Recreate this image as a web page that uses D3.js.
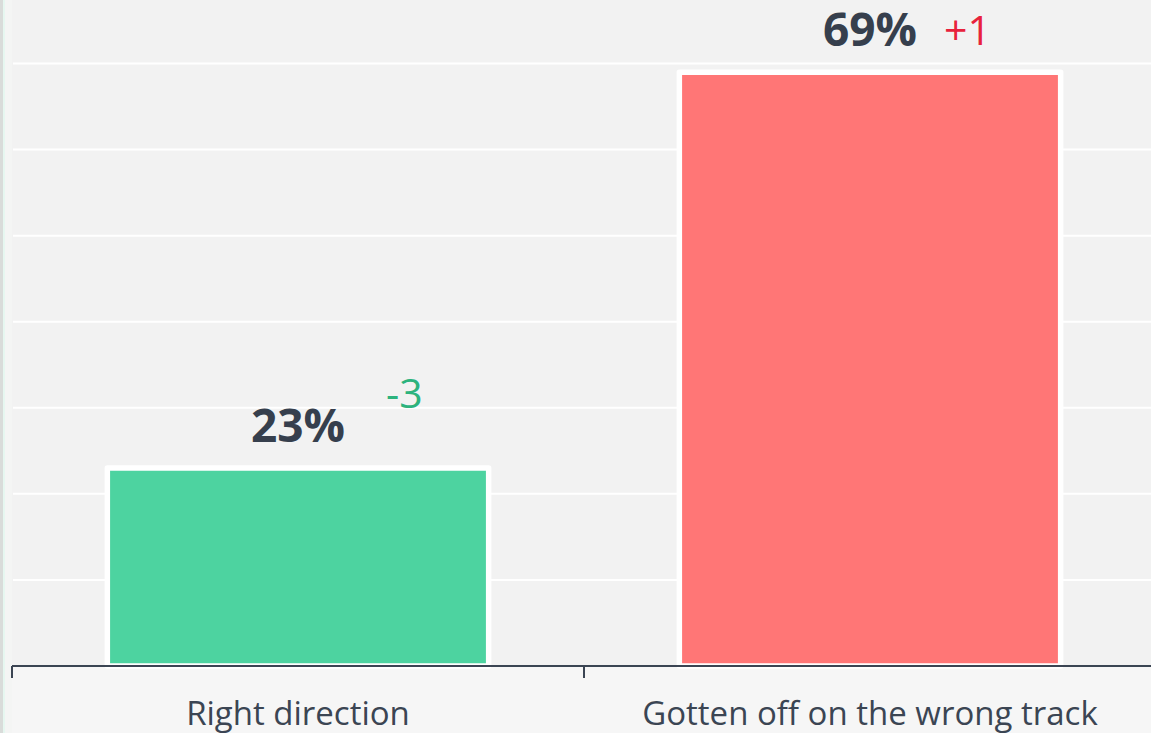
<!DOCTYPE html>
<html>
<head>
<meta charset="utf-8">
<script src="https://cdn.jsdelivr.net/npm/d3@7"></script>
<style>
  html, body { margin: 0; padding: 0; background: #f6f6f6; overflow: hidden; }
  text { font-family: "Open Sans", sans-serif; }
</style>
</head>
<body>
<div id="chart"></div>
<script>
// chart values
const categories = ["Right direction", "Gotten off on the wrong track"];
const values = [23, 69];
const changes = ["-3", "+1"];
const gridTicks = [10, 20, 30, 40, 50, 60, 70];

const barColors = ["#4dd3a0", "#ff7676"];
const changeColors = ["#2db37d", "#e8223c"];

const width = 1151,
      height = 733,
      margin = ({ top: 0, right: -5, bottom: 67, left: 12 });

let svg = d3.select("#chart")
    .append("svg")
    .attr("width", width)
    .attr("height", height);

// left edge strips
svg.append("rect").attr("x", 0).attr("y", 0).attr("width", 3).attr("height", height).attr("fill", "#d9dcda");
svg.append("rect").attr("x", 3).attr("y", 0).attr("width", 2).attr("height", height).attr("fill", "#e6f7f0");
svg.append("rect").attr("x", 5).attr("y", 0).attr("width", 7).attr("height", height).attr("fill", "#f4f5f4");

// band scale for categories (ticks on band edges)
let x = d3.scaleBand()
    .domain(categories)
    .range([margin.left, width - margin.right])
    .paddingInner(1 / 3)
    .paddingOuter(1 / 6);

let y = d3.scaleLinear()
    .domain([0, 77.38])
    .range([height - margin.bottom, margin.top]);

// plot background
svg.append("rect")
    .attr("x", margin.left)
    .attr("y", margin.top)
    .attr("width", width - margin.left)
    .attr("height", y(0) - margin.top)
    .attr("fill", "#f2f2f2");

// gridlines
svg.append("g")
    .selectAll("line")
    .data(gridTicks)
    .join("line")
    .attr("x1", margin.left + 1)
    .attr("x2", width)
    .attr("y1", d => y(d))
    .attr("y2", d => y(d))
    .attr("stroke", "#ffffff")
    .attr("stroke-width", 2);

// bars with white border
svg.append("g")
    .selectAll("rect")
    .data(values)
    .join("rect")
    .attr("x", (d, i) => x(categories[i]))
    .attr("width", x.bandwidth())
    .attr("y", d => y(d))
    .attr("height", d => y(0) - y(d))
    .attr("fill", (d, i) => barColors[i])
    .attr("stroke", "#ffffff")
    .attr("stroke-width", 5.5)
    .attr("stroke-linejoin", "round");

// x axis with ticks at band edges
const step = x.step();
const edges = categories.map(c => x(c) - (step - x.bandwidth()) / 2);
const axisY = y(0);
let axis = svg.append("g");
axis.append("line")
    .attr("x1", margin.left)
    .attr("x2", width)
    .attr("y1", axisY)
    .attr("y2", axisY)
    .attr("stroke", "#3b4553")
    .attr("stroke-width", 2);
axis.selectAll(".tick")
    .data(edges)
    .join("line")
    .attr("class", "tick")
    .attr("x1", d => d)
    .attr("x2", d => d)
    .attr("y1", axisY)
    .attr("y2", axisY + 12)
    .attr("stroke", "#3b4553")
    .attr("stroke-width", 2);
axis.selectAll("text")
    .data(categories)
    .join("text")
    .text(d => d)
    .attr("x", d => x(d) + x.bandwidth() / 2)
    .attr("y", axisY + 59)
    .attr("text-anchor", "middle")
    .attr("font-size", 33)
    .attr("fill", "#3b4553");

// value labels
svg.append("g")
    .selectAll("text")
    .data(values)
    .join("text")
    .text(d => d + "%")
    .attr("x", (d, i) => x(categories[i]) + x.bandwidth() / 2)
    .attr("y", d => y(d) - 26)
    .attr("text-anchor", "middle")
    .attr("font-size", 46)
    .attr("font-weight", "bold")
    .attr("fill", "#363f4d");

// change labels
const changeDx = [88, 74];
const changeDy = [-60, -27];
svg.append("g")
    .selectAll("text")
    .data(changes)
    .join("text")
    .text(d => d)
    .attr("x", (d, i) => x(categories[i]) + x.bandwidth() / 2 + changeDx[i])
    .attr("y", (d, i) => y(values[i]) + changeDy[i])
    .attr("font-size", 41)
    .attr("fill", (d, i) => changeColors[i]);
</script>
</body>
</html>
